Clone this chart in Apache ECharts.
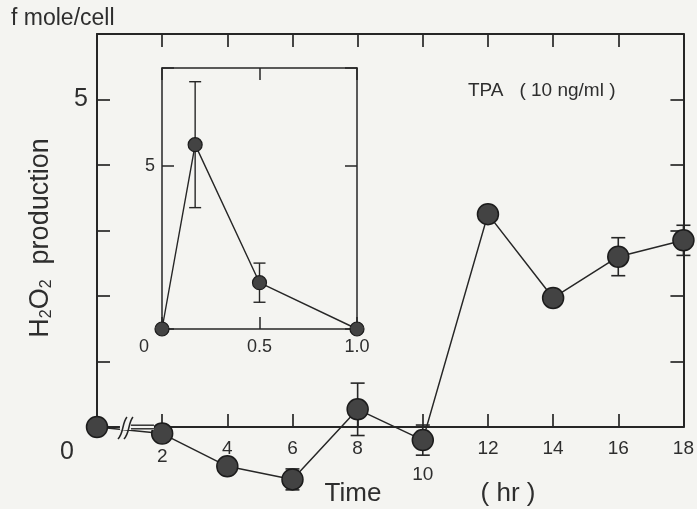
<!DOCTYPE html>
<html>
<head>
<meta charset="utf-8">
<script src="https://cdn.jsdelivr.net/npm/echarts@6/dist/echarts.min.js"></script>
<style>
  html, body { margin: 0; padding: 0; background: #f4f4f1; }
  #chart { width: 697px; height: 509px; }
</style>
</head>
<body>
<div id="chart"></div>
<script>
// H2O2 production after TPA (10 ng/ml), long time course (hours)
const hours = [0, 2, 4, 6, 8, 10, 12, 14, 16, 18];
const h2o2 = [0, -0.1, -0.6, -0.8, 0.27, -0.2, 3.25, 1.97, 2.6, 2.85];
const h2o2Err = [0, 0, 0, 0.16, 0.4, 0.23, 0, 0.05, 0.29, 0.23];

// Early phase (first hour), inset
const insetHours = [0, 0.17, 0.5, 1.0];
const insetH2o2 = [0, 5.65, 1.42, 0];
const insetErr = [0, 1.93, 0.6, 0.05];

// Tick labels
const hourLabels = ['2', '4', '6', '8', '10', '12', '14', '16', '18'];
const yLabels = ['0', '5'];
const insetXLabels = ['0', '0.5', '1.0'];
const insetYLabels = ['5'];

const FONT = "'Liberation Sans', Arial, sans-serif";
const INK = '#262626';
const TXT = '#2e2e2e';
const BG = '#f4f4f1';

const chart = echarts.init(document.getElementById('chart'));

function errorBar(cap, width) {
  return function (params, api) {
    const x = api.value(0), y = api.value(1), e = api.value(2);
    const hi = api.coord([x, y + e]);
    const lo = api.coord([x, y - e]);
    const st = { stroke: INK, lineWidth: width };
    return {
      type: 'group',
      children: [
        { type: 'line', shape: { x1: hi[0], y1: hi[1], x2: lo[0], y2: lo[1] }, style: st },
        { type: 'line', shape: { x1: hi[0] - cap, y1: hi[1], x2: hi[0] + cap, y2: hi[1] }, style: st },
        { type: 'line', shape: { x1: lo[0] - cap, y1: lo[1], x2: lo[0] + cap, y2: lo[1] }, style: st }
      ]
    };
  };
}

function frameAxis(base) {
  return Object.assign({
    type: 'value',
    axisLine: { show: true, onZero: false, lineStyle: { color: INK, width: 2 } },
    axisTick: { show: true, inside: true, length: 13, lineStyle: { color: INK, width: 1.7 } },
    splitLine: { show: false },
    axisLabel: { show: false }
  }, base);
}

function insetAxis(base) {
  return frameAxis(Object.assign({
    axisTick: { show: true, inside: true, length: 12, lineStyle: { color: INK, width: 1.5 } },
    axisLine: { show: true, onZero: false, lineStyle: { color: INK, width: 1.5 } }
  }, base));
}

const mainData = hours.map((t, i) => [t, h2o2[i]]);
const mainErrData = hours.map((t, i) => [t, h2o2[i], h2o2Err[i]]).filter(d => d[2] > 0);
const insetData = insetHours.map((t, i) => [t, insetH2o2[i]]);
const insetErrData = insetHours.map((t, i) => [t, insetH2o2[i], insetErr[i]]).filter(d => d[2] > 0);

const option = {
  backgroundColor: BG,
  animation: false,
  grid: [
    { left: 97, top: 34, width: 589, height: 393 },
    { left: 162, top: 68, width: 195, height: 261 }
  ],
  xAxis: [
    frameAxis({
      gridIndex: 0, position: 'bottom', min: 0, max: 18, interval: 2,
      axisLabel: {
        show: true, margin: 12, color: TXT, fontFamily: FONT, fontSize: 19,
        formatter: v => {
          const s = String(v);
          if (hourLabels.indexOf(s) < 0) return '';
          if (s === '2') return '{lo|2}';
          if (s === '10') return '{lo2|10}';
          return s;
        },
        rich: {
          lo: { fontSize: 19, fontFamily: FONT, color: TXT, padding: [8, 0, 0, 0] },
          lo2: { fontSize: 19, fontFamily: FONT, color: TXT, padding: [26, 0, 0, 0] }
        }
      }
    }),
    frameAxis({ gridIndex: 0, position: 'top', min: 0, max: 18, interval: 2 }),
    insetAxis({
      gridIndex: 1, position: 'bottom', min: 0, max: 1, interval: 0.5,
      axisLabel: {
        show: true, margin: 9, color: TXT, fontFamily: FONT, fontSize: 18,
        formatter: v => {
          const s = v === 0 ? '0' : v.toFixed(1);
          if (insetXLabels.indexOf(s) < 0) return '';
          return s === '0' ? '{z|0}' : s;
        },
        rich: { z: { fontSize: 18, fontFamily: FONT, color: TXT, padding: [0, 36, 0, 0] } }
      }
    }),
    insetAxis({ gridIndex: 1, position: 'top', min: 0, max: 1, interval: 0.5 })
  ],
  yAxis: [
    frameAxis({
      gridIndex: 0, position: 'left', min: 0, max: 6, interval: 1,
      axisLabel: {
        show: true, margin: 9, color: TXT, fontFamily: FONT, fontSize: 25,
        formatter: v => {
          const s = String(v);
          if (yLabels.indexOf(s) < 0) return '';
          return s === '0' ? '{z|0}' : s;
        },
        rich: { z: { fontSize: 25, fontFamily: FONT, color: TXT, padding: [50, 14, 0, 0] } }
      }
    }),
    frameAxis({ gridIndex: 0, position: 'right', min: 0, max: 6, interval: 1 }),
    insetAxis({
      gridIndex: 1, position: 'left', min: 0, max: 8, interval: 5,
      axisLabel: {
        show: true, margin: 7, color: TXT, fontFamily: FONT, fontSize: 18,
        formatter: v => (insetYLabels.indexOf(String(v)) >= 0 ? String(v) : '')
      }
    }),
    insetAxis({ gridIndex: 1, position: 'right', min: 0, max: 8, interval: 5 })
  ],
  series: [
    {
      type: 'custom', xAxisIndex: 0, yAxisIndex: 0, clip: false, z: 2,
      renderItem: errorBar(7, 1.6), data: mainErrData
    },
    {
      type: 'line', xAxisIndex: 0, yAxisIndex: 0, clip: false, z: 3,
      data: mainData, symbol: 'circle', symbolSize: 21,
      lineStyle: { color: INK, width: 1.5 },
      itemStyle: { color: '#434343', borderColor: '#1c1c1c', borderWidth: 1.5 }
    },
    {
      type: 'custom', xAxisIndex: 2, yAxisIndex: 2, clip: false, z: 2,
      renderItem: errorBar(6, 1.4), data: insetErrData
    },
    {
      type: 'line', xAxisIndex: 2, yAxisIndex: 2, clip: false, z: 3,
      data: insetData, symbol: 'circle', symbolSize: 14,
      lineStyle: { color: INK, width: 1.4 },
      itemStyle: { color: '#434343', borderColor: '#1c1c1c', borderWidth: 1.2 }
    }
  ]
};

chart.setOption(option);

// Axis break on the time axis between 0 and 2 h, plus titles
const bp = chart.convertToPixel({ xAxisIndex: 0, yAxisIndex: 0 }, [0.95, 0]);
const bx = bp[0], by = bp[1];

chart.setOption({
  graphic: [
    {
      type: 'rect', z: 50,
      shape: { x: bx - 8, y: by - 3, width: 34, height: 6 },
      style: { fill: BG }
    },
    {
      type: 'line', z: 51,
      shape: { x1: bx + 3, y1: by - 1.8, x2: bx + 26, y2: by - 1.8 },
      style: { stroke: INK, lineWidth: 1.4 }
    },
    {
      type: 'line', z: 51,
      shape: { x1: bx + 3, y1: by + 1.8, x2: bx + 26, y2: by + 1.8 },
      style: { stroke: INK, lineWidth: 1.4 }
    },
    {
      type: 'bezierCurve', z: 52,
      shape: { x1: bx - 10, y1: by + 12, cpx1: bx - 4, cpy1: by + 6, cpx2: bx - 6, cpy2: by - 4, x2: bx - 1, y2: by - 10 },
      style: { stroke: INK, lineWidth: 1.5, fill: 'none' }
    },
    {
      type: 'bezierCurve', z: 52,
      shape: { x1: bx - 4, y1: by + 12, cpx1: bx + 2, cpy1: by + 6, cpx2: bx, cpy2: by - 4, x2: bx + 5, y2: by - 10 },
      style: { stroke: INK, lineWidth: 1.5, fill: 'none' }
    },
    {
      type: 'text', left: 11, top: 7, z: 60,
      style: { text: 'f mole/cell', fontFamily: FONT, fontSize: 23, fill: TXT }
    },
    {
      type: 'text', x: 468, y: 91, z: 60,
      style: { text: 'TPA   ( 10 ng/ml )', fontFamily: FONT, fontSize: 19, fill: TXT, verticalAlign: 'middle' }
    },
    {
      type: 'text', x: 41, y: 238, rotation: Math.PI / 2, z: 60,
      style: {
        text: '{n|H}{s|2}{n|O}{s|2}{n|  production}',
        align: 'center', verticalAlign: 'middle',
        rich: {
          n: { fontFamily: FONT, fontSize: 27, fill: TXT },
          s: { fontFamily: FONT, fontSize: 16, fill: TXT, padding: [12, 0, 0, 0] }
        }
      }
    },
    {
      type: 'text', x: 353, y: 494, z: 60,
      style: { text: 'Time', fontFamily: FONT, fontSize: 26, fill: TXT, align: 'center', verticalAlign: 'middle' }
    },
    {
      type: 'text', x: 508, y: 494, z: 60,
      style: { text: '( hr )', fontFamily: FONT, fontSize: 26, fill: TXT, align: 'center', verticalAlign: 'middle' }
    }
  ]
});
</script>
</body>
</html>
